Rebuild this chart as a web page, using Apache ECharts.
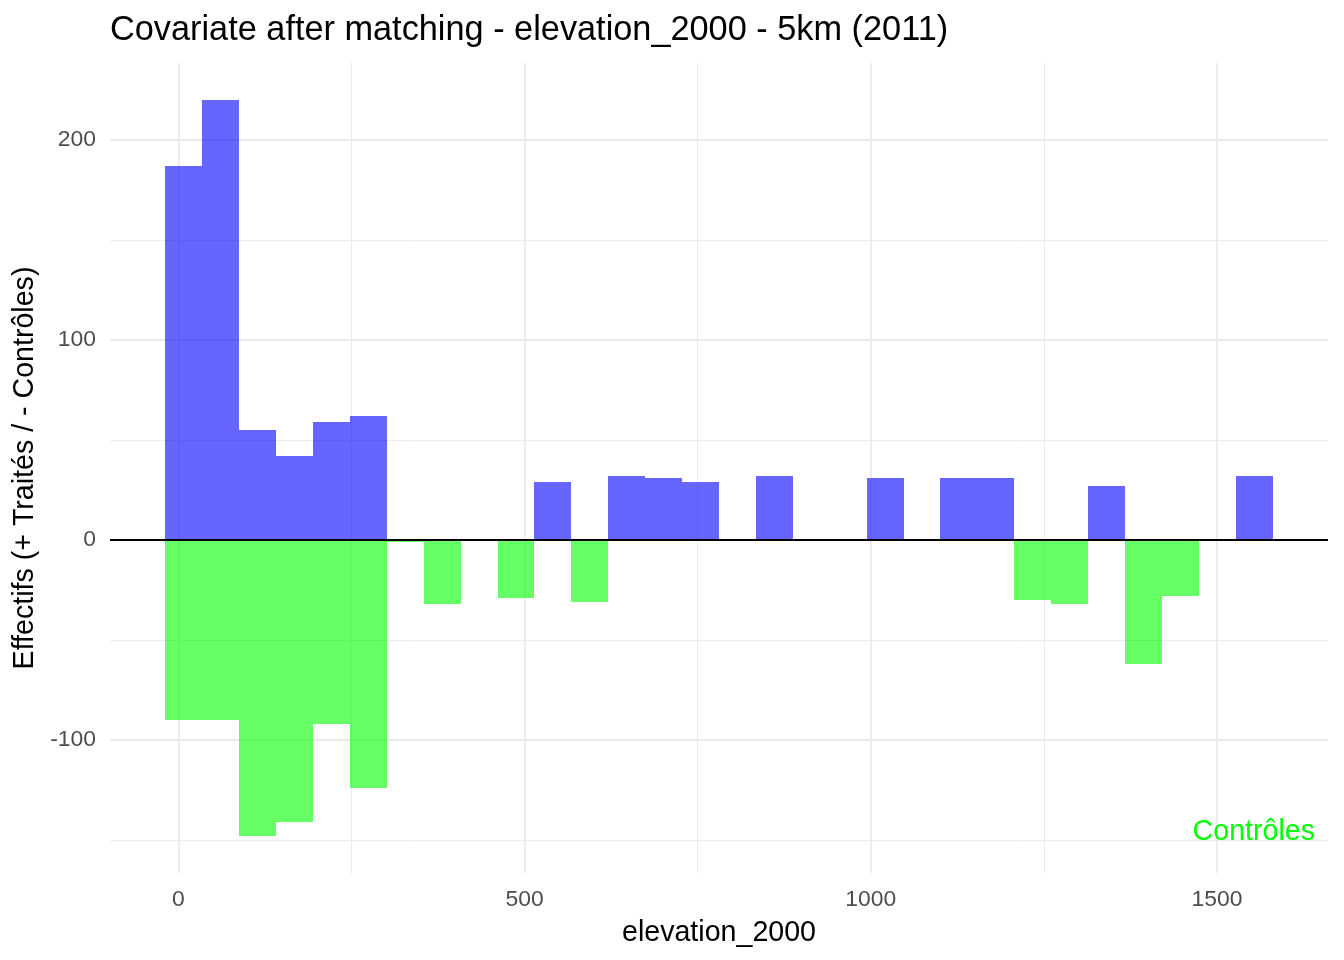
<!DOCTYPE html>
<html>
<head>
<meta charset="utf-8">
<script src="https://cdn.jsdelivr.net/npm/echarts@6/dist/echarts.min.js"></script>
<style>html,body{margin:0;padding:0;background:#fff}#c{width:1344px;height:960px}</style>
</head>
<body>
<div id="c"></div>
<script>
// Histogram bins (centres, elevation_2000)
var binCenters = [7.9, 61.2, 114.5, 167.8, 221.1, 274.4, 327.7, 381.0, 434.3, 487.6,
  540.9, 594.2, 647.5, 700.8, 754.1, 807.4, 860.7, 914.0, 967.3, 1020.6,
  1073.9, 1127.2, 1180.5, 1233.8, 1287.1, 1340.4, 1393.7, 1447.0, 1500.3, 1553.6];
var binWidth = 53.3;
// Treated counts (positive)
var treated = [187, 220, 55, 42, 59, 62, 0, 0, 0, 0,
  29, 0, 32, 31, 29, 0, 32, 0, 0, 31,
  0, 31, 31, 0, 0, 27, 0, 0, 0, 32];
// Control counts (negative)
var controls = [-90, -90, -148, -141, -92, -124, -1, -32, 0, -29,
  0, -31, 0, 0, 0, 0, 0, 0, 0, 0,
  0, 0, 0, -30, -32, 0, -62, -28, 0, 0];
var xTickLabels = [0, 500, 1000, 1500];
var yTickLabels = [-100, 0, 100, 200];
var xGrid = [0, 250, 500, 750, 1000, 1250, 1500];
var yGrid = [-150, -100, -50, 0, 50, 100, 150, 200];

var FONT = '"Liberation Sans", Arial, sans-serif';

function toData(vals) {
  var out = [];
  for (var i = 0; i < vals.length; i++) {
    if (vals[i] !== 0) out.push([binCenters[i], vals[i]]);
  }
  return out;
}
function renderBar(color) {
  return function (params, api) {
    var c = api.value(0), v = api.value(1);
    var p0 = api.coord([c - binWidth / 2, 0]);
    var p1 = api.coord([c + binWidth / 2, v]);
    var x0 = Math.round(p0[0]), x1 = Math.round(p1[0]);
    var y0 = Math.round(Math.min(p0[1], p1[1])), y1 = Math.round(Math.max(p0[1], p1[1]));
    return {
      type: 'rect',
      shape: { x: x0, y: y0, width: x1 - x0, height: y1 - y0 },
      style: { fill: color }
    };
  };
}

var gridLines = [];
yGrid.forEach(function (y) {
  if (y === 0) return;
  gridLines.push({ yAxis: y, lineStyle: { width: (y % 100 === 0) ? 1.8 : 1 } });
});
xGrid.forEach(function (x) {
  gridLines.push({ xAxis: x, lineStyle: { width: (x % 500 === 0) ? 1.8 : 1 } });
});

var chart = echarts.init(document.getElementById('c'), null, { renderer: 'canvas' });
chart.setOption({
  animation: false,
  backgroundColor: '#ffffff',
  textStyle: { fontFamily: FONT },
  title: {
    text: 'Covariate after matching - elevation_2000 - 5km (2011)',
    left: 105, top: 9,
    textStyle: { fontFamily: FONT, fontSize: 34.3, fontWeight: 'normal', color: '#000000' }
  },
  grid: { left: 110, right: 16, top: 63, bottom: 87, containLabel: false },
  xAxis: {
    type: 'value', min: -98.8, max: 1660.3,
    name: 'elevation_2000', nameLocation: 'middle', nameGap: 46,
    nameTextStyle: { fontFamily: FONT, fontSize: 28.6, color: '#000000' },
    axisLine: { show: false }, axisTick: { show: false }, splitLine: { show: false },
    axisLabel: { customValues: xTickLabels, margin: 15, fontFamily: FONT, fontSize: 22.9, color: '#4d4d4d',
      formatter: function (v) { return String(v); } }
  },
  yAxis: {
    type: 'value', min: -166.4, max: 238.4,
    name: 'Effectifs (+ Traités / - Contrôles)', nameLocation: 'middle', nameGap: 65,
    nameTextStyle: { fontFamily: FONT, fontSize: 28.6, color: '#000000' },
    axisLine: { show: false }, axisTick: { show: false }, splitLine: { show: false },
    axisLabel: { customValues: yTickLabels, margin: 14, fontFamily: FONT, fontSize: 22.9, color: '#4d4d4d',
      formatter: function (v) { return String(v); } }
  },
  series: [
    {
      type: 'scatter', data: [], silent: true, z: 0,
      markLine: {
        silent: true, symbol: 'none', z: 0, animation: false,
        label: { show: false },
        lineStyle: { color: '#ebebeb', type: 'solid' },
        data: gridLines
      }
    },
    {
      type: 'custom', name: 'Traités', renderItem: renderBar('rgba(0,0,255,0.6)'),
      data: toData(treated), encode: { x: 0, y: 1 }, z: 2, silent: true
    },
    {
      type: 'custom', name: 'Contrôles', renderItem: renderBar('rgba(0,255,0,0.6)'),
      data: toData(controls), encode: { x: 0, y: 1 }, z: 2, silent: true,
      markLine: {
        silent: true, symbol: 'none', z: 10, animation: false,
        label: { show: false },
        lineStyle: { color: '#000000', width: 2, type: 'solid' },
        data: [{ yAxis: 0 }]
      }
    }
  ],
  graphic: [
    {
      type: 'text', right: 29, top: 818, z: 100, zlevel: 0,
      style: { text: 'Contrôles', fill: '#00ff00', font: '28.6px ' + FONT }
    }
  ]
});
</script>
</body>
</html>
